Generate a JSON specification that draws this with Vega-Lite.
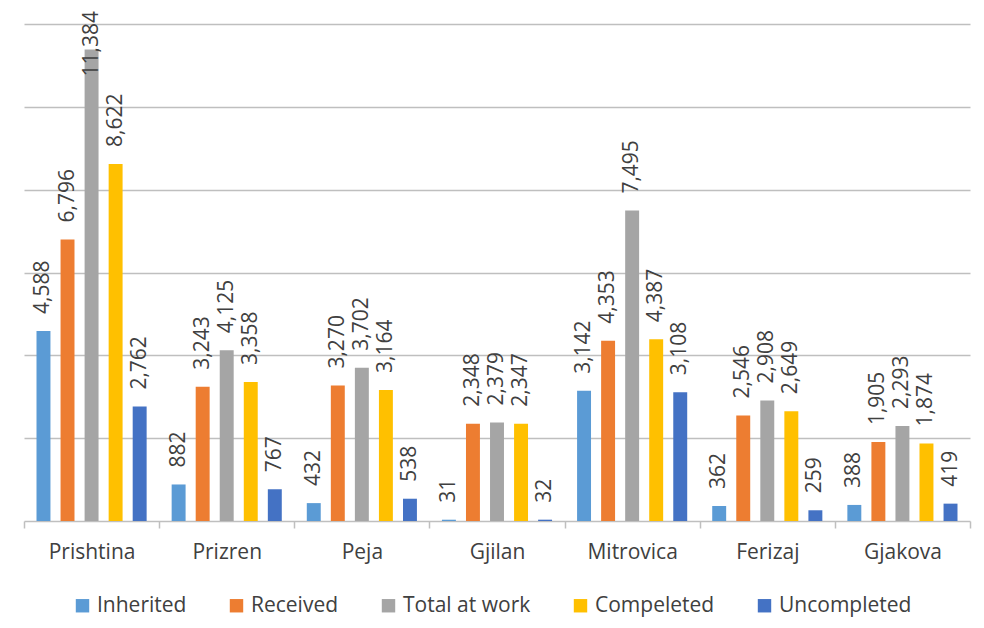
{
  "$schema": "https://vega.github.io/schema/vega-lite/v6.json",
  "autosize": {"type": "none"},
  "padding": {"left": 24, "top": 24, "right": 14, "bottom": 107},
  "width": 946,
  "height": 497,
  "background": "white",
  "config": {"view": {"stroke": null}, "font": "Open Sans"},
  "data": {"values": [
    {"city": "Prishtina", "series": "Inherited", "value": 4588},
    {"city": "Prishtina", "series": "Received", "value": 6796},
    {"city": "Prishtina", "series": "Total at work", "value": 11384},
    {"city": "Prishtina", "series": "Compeleted", "value": 8622},
    {"city": "Prishtina", "series": "Uncompleted", "value": 2762},
    {"city": "Prizren", "series": "Inherited", "value": 882},
    {"city": "Prizren", "series": "Received", "value": 3243},
    {"city": "Prizren", "series": "Total at work", "value": 4125},
    {"city": "Prizren", "series": "Compeleted", "value": 3358},
    {"city": "Prizren", "series": "Uncompleted", "value": 767},
    {"city": "Peja", "series": "Inherited", "value": 432},
    {"city": "Peja", "series": "Received", "value": 3270},
    {"city": "Peja", "series": "Total at work", "value": 3702},
    {"city": "Peja", "series": "Compeleted", "value": 3164},
    {"city": "Peja", "series": "Uncompleted", "value": 538},
    {"city": "Gjilan", "series": "Inherited", "value": 31},
    {"city": "Gjilan", "series": "Received", "value": 2348},
    {"city": "Gjilan", "series": "Total at work", "value": 2379},
    {"city": "Gjilan", "series": "Compeleted", "value": 2347},
    {"city": "Gjilan", "series": "Uncompleted", "value": 32},
    {"city": "Mitrovica", "series": "Inherited", "value": 3142},
    {"city": "Mitrovica", "series": "Received", "value": 4353},
    {"city": "Mitrovica", "series": "Total at work", "value": 7495},
    {"city": "Mitrovica", "series": "Compeleted", "value": 4387},
    {"city": "Mitrovica", "series": "Uncompleted", "value": 3108},
    {"city": "Ferizaj", "series": "Inherited", "value": 362},
    {"city": "Ferizaj", "series": "Received", "value": 2546},
    {"city": "Ferizaj", "series": "Total at work", "value": 2908},
    {"city": "Ferizaj", "series": "Compeleted", "value": 2649},
    {"city": "Ferizaj", "series": "Uncompleted", "value": 259},
    {"city": "Gjakova", "series": "Inherited", "value": 388},
    {"city": "Gjakova", "series": "Received", "value": 1905},
    {"city": "Gjakova", "series": "Total at work", "value": 2293},
    {"city": "Gjakova", "series": "Compeleted", "value": 1874},
    {"city": "Gjakova", "series": "Uncompleted", "value": 419}
  ]},
  "encoding": {
    "x": {
      "field": "city", "type": "nominal", "sort": null,
      "scale": {"paddingInner": 0, "paddingOuter": 0},
      "axis": {
        "title": null, "labelAngle": 0, "tickBand": "extent",
        "domainColor": "#BFBFBF", "domainWidth": 1.5,
        "tickColor": "#BFBFBF", "tickSize": 7, "tickWidth": 1.5,
        "labelFont": "Open Sans", "labelFontSize": 21, "labelColor": "#404040",
        "labelPadding": 13
      }
    },
    "xOffset": {
      "field": "series", "type": "nominal",
      "sort": ["Inherited", "Received", "Total at work", "Compeleted", "Uncompleted"],
      "scale": {"paddingInner": 0.42, "paddingOuter": 0.52}
    },
    "y": {
      "field": "value", "type": "quantitative",
      "scale": {"domain": [0, 12000], "nice": false},
      "axis": {
        "title": null, "labels": false, "ticks": false, "domain": false,
        "values": [2000, 4000, 6000, 8000, 10000, 12000],
        "gridColor": "#BFBFBF", "gridWidth": 1.5
      }
    }
  },
  "layer": [
    {
      "mark": {"type": "bar"},
      "encoding": {
        "color": {
          "field": "series", "type": "nominal",
          "sort": ["Inherited", "Received", "Total at work", "Compeleted", "Uncompleted"],
          "scale": {
            "domain": ["Inherited", "Received", "Total at work", "Compeleted", "Uncompleted"],
            "range": ["#5B9BD5", "#ED7D31", "#A5A5A5", "#FFC000", "#4472C4"]
          },
          "legend": {
            "title": null, "orient": "none", "direction": "horizontal",
            "legendX": 48, "legendY": 571,
            "symbolType": "square", "symbolSize": 180, "symbolStrokeWidth": 0,
            "labelFont": "Open Sans", "labelFontSize": 21, "labelColor": "#404040",
            "labelOffset": 4, "columnPadding": 39, "labelLimit": 300
          }
        }
      }
    },
    {
      "transform": [{"filter": "datum.value < 11000"}],
      "mark": {
        "type": "text", "angle": 270, "align": "left", "baseline": "middle",
        "dx": 17, "font": "Open Sans", "fontSize": 21, "color": "#404040"
      },
      "encoding": {
        "text": {"field": "value", "type": "quantitative", "format": ","}
      }
    },
    {
      "transform": [{"filter": "datum.value >= 11000"}],
      "mark": {
        "type": "text", "angle": 270, "align": "left", "baseline": "middle",
        "dx": -27, "font": "Open Sans", "fontSize": 21, "color": "#404040"
      },
      "encoding": {
        "text": {"field": "value", "type": "quantitative", "format": ","}
      }
    }
  ]
}
